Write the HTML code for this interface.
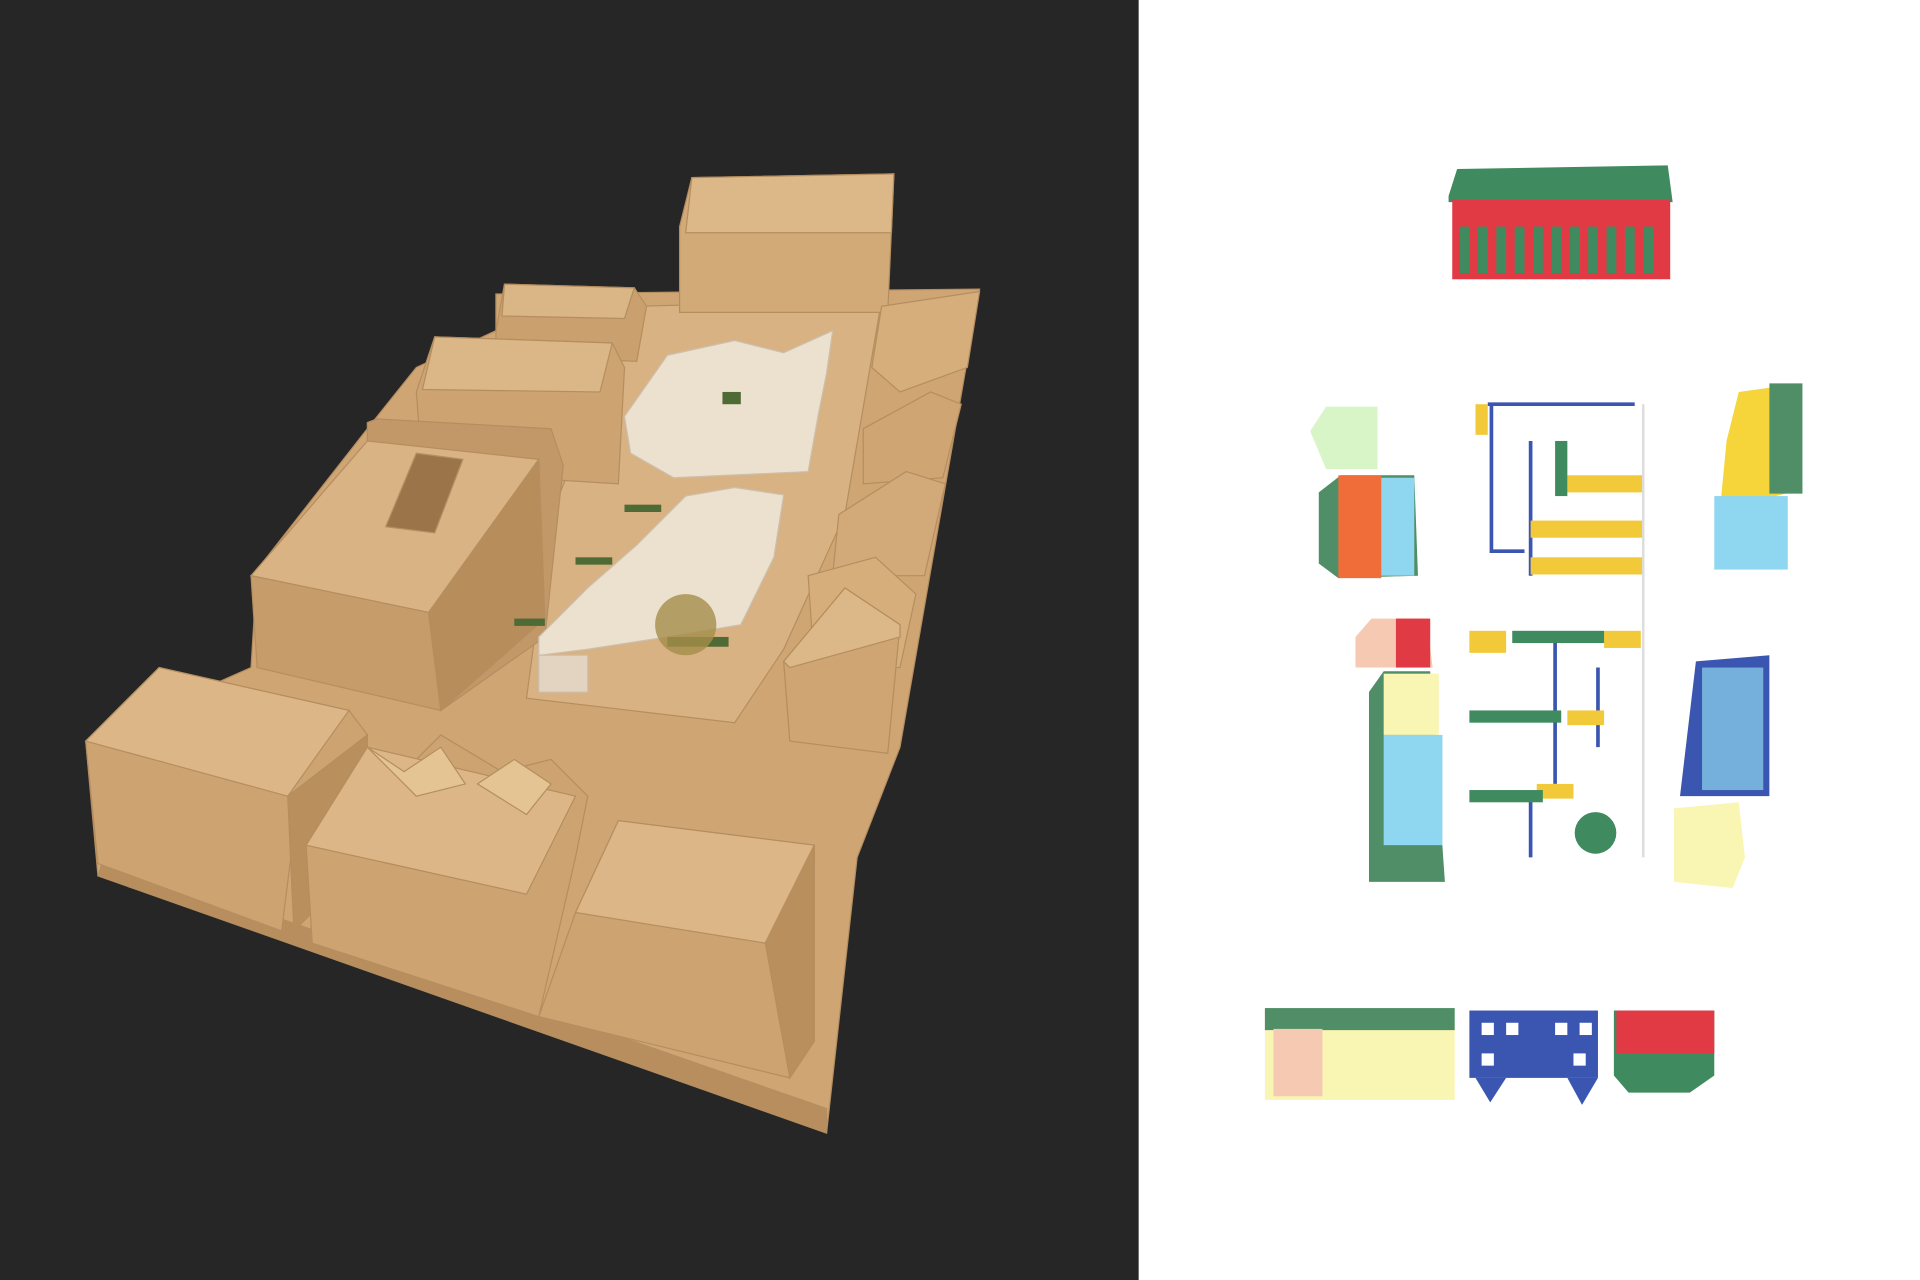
<!DOCTYPE html>
<html><head><meta charset="utf-8"><style>
html,body{margin:0;padding:0;width:1920px;height:1280px;overflow:hidden;background:#fff}
svg{display:block}
</style></head><body>
<svg width="1920" height="1280" viewBox="0 0 1568 1045" preserveAspectRatio="none" xmlns="http://www.w3.org/2000/svg">
<rect x="0" y="0" width="930" height="1045" fill="#262626"/>
<rect x="930" y="0" width="638" height="1045" fill="#ffffff"/>
<g stroke="#b58e60" stroke-width="1">
<polygon points="405,240 800,236 735,610 700,700 675,925 80,715 70,605 205,545 210,465 300,350 340,300 405,270" fill="#cfa574"/>
<polygon points="80,715 675,925 675,905 85,700" fill="#b88e5e"/>
<polygon points="520,250 720,245 690,420 640,530 600,590 430,570 450,420" fill="#d8b282"/>
<polygon points="555,185 565,145 730,142 725,255 555,255" fill="#d2aa78"/>
<polygon points="565,145 730,142 728,190 560,190" fill="#dcb787"/>
<polygon points="405,270 412,232 518,235 528,250 520,295 405,290" fill="#c9a06e"/>
<polygon points="412,232 518,235 510,260 410,258" fill="#dab586"/>
<polygon points="340,320 355,275 500,280 510,300 505,395 345,385" fill="#cda372"/>
<polygon points="355,275 500,280 490,320 345,318" fill="#dbb687"/>
<polygon points="300,345 308,342 450,350 460,380 445,520 360,580 300,560" fill="#c29868"/>
<polygon points="205,470 300,360 440,375 350,500" fill="#d9b383"/>
<polygon points="205,470 350,500 360,580 210,545" fill="#c69c6a"/>
<polygon points="350,500 440,375 445,505 360,580" fill="#b88d5c"/>
<polygon points="315,430 340,370 378,375 355,435" fill="#9c744a"/>
<polygon points="720,250 800,238 790,300 735,320 712,300" fill="#d6ae7c"/>
<polygon points="705,350 760,320 785,330 770,390 705,395" fill="#cfa574"/>
<polygon points="685,420 740,385 772,395 755,470 680,470" fill="#d2a978"/>
<polygon points="660,470 715,455 748,485 735,545 665,545" fill="#d6ae7c"/>
<polygon points="640,540 690,480 735,510 725,615 645,605" fill="#cea573"/>
<polygon points="640,540 690,480 735,510 735,520 645,545" fill="#dcb888"/>
<polygon points="70,605 130,545 285,580 300,600 240,680 230,760 80,705" fill="#cda372"/>
<polygon points="70,605 130,545 285,580 235,650" fill="#dcb686"/>
<polygon points="235,650 300,600 300,700 240,760" fill="#b98f5e"/>
<polygon points="250,690 300,610 330,630 360,600 410,630 450,620 480,650 470,700 440,830 255,770" fill="#cda372"/>
<polygon points="250,690 300,610 470,650 430,730" fill="#dcb686"/>
<polygon points="300,610 330,630 360,610 380,640 340,650" fill="#e5c494"/>
<polygon points="390,640 420,620 450,640 430,665" fill="#e5c494"/>
<polygon points="470,745 505,670 665,690 665,850 645,880 440,830" fill="#cda372"/>
<polygon points="470,745 505,670 665,690 625,770" fill="#dcb686"/>
<polygon points="625,770 665,690 665,850 645,880" fill="#b98f5e"/>
</g>
<g fill="#ece0cf" stroke="#cdbfae">
<polygon points="510,340 545,290 600,278 640,288 680,270 675,305 668,340 660,385 550,390 515,370"/>
<polygon points="440,520 480,480 520,445 560,405 600,398 640,404 632,455 605,510 545,520 480,530 440,535"/>
<polygon points="440,535 480,535 480,565 440,565" fill="#e2d4c0"/>
</g>
<g fill="#4f6b35"><rect x="590" y="320" width="15" height="10"/><rect x="510" y="412" width="30" height="6"/><rect x="470" y="455" width="30" height="6"/><rect x="420" y="505" width="25" height="6"/><rect x="545" y="520" width="50" height="8"/></g>
<circle cx="560" cy="510" r="25" fill="#a58d4a" opacity="0.8"/>

<polygon points="1183,160 1190,138 1362,135 1366,165 1183,165" fill="#3f8a5e"/>
<rect x="1186" y="163" width="178" height="65" fill="#e23a45"/>
<g fill="#3f8a5e"><rect x="1192" y="185" width="8" height="38"/><rect x="1207" y="185" width="8" height="38"/><rect x="1222" y="185" width="8" height="38"/><rect x="1237" y="185" width="8" height="38"/><rect x="1252" y="185" width="8" height="38"/><rect x="1267" y="185" width="8" height="38"/><rect x="1282" y="185" width="8" height="38"/><rect x="1297" y="185" width="8" height="38"/><rect x="1312" y="185" width="8" height="38"/><rect x="1327" y="185" width="8" height="38"/><rect x="1342" y="185" width="8" height="38"/></g>
<polygon points="1070,352 1083,332 1125,332 1125,383 1083,383" fill="#d8f5c8"/>
<polygon points="1077,402 1095,388 1155,388 1158,470 1093,472 1077,460" fill="#4f8e66"/>
<rect x="1093" y="388" width="35" height="84" fill="#f06d3a"/>
<rect x="1128" y="390" width="27" height="80" fill="#8fd6f0"/>
<polygon points="1107,520 1120,505 1165,505 1170,545 1107,545" fill="#f6c9b3"/>
<rect x="1140" y="505" width="28" height="40" fill="#e03b45"/>
<polygon points="1118,565 1130,548 1168,548 1180,720 1118,720" fill="#4f8e66"/>
<rect x="1130" y="550" width="45" height="50" fill="#f9f5b3"/>
<rect x="1130" y="600" width="48" height="90" fill="#8fd6f0"/>
<g fill="none" stroke="#3b56b0" stroke-width="3"><path d="M1215,330 H1335 M1218,330 V450 H1245 M1250,360 V470"/><path d="M1270,520 V640 M1305,545 V610 M1250,650 V700"/></g>
<g fill="#f2c938"><rect x="1205" y="330" width="10" height="25"/><rect x="1280" y="388" width="62" height="14"/><rect x="1250" y="425" width="92" height="14"/><rect x="1250" y="455" width="92" height="14"/><rect x="1200" y="515" width="30" height="18"/><rect x="1310" y="515" width="30" height="14"/><rect x="1280" y="580" width="30" height="12"/><rect x="1255" y="640" width="30" height="12"/></g>
<line x1="1342" y1="330" x2="1342" y2="700" stroke="#ddd" stroke-width="2"/>
<g fill="#3f8a5e"><rect x="1235" y="515" width="75" height="10"/><rect x="1200" y="580" width="75" height="10"/><rect x="1200" y="645" width="60" height="10"/><rect x="1270" y="360" width="10" height="45"/><circle cx="1303" cy="680" r="17"/></g>
<polygon points="1420,320 1470,313 1470,400 1450,405 1450,460 1400,465 1410,360" fill="#f5d53a"/>
<rect x="1445" y="313" width="27" height="90" fill="#4f8e66"/>
<rect x="1400" y="405" width="60" height="60" fill="#8fd6f0"/>
<polygon points="1385,540 1445,535 1445,650 1372,650" fill="#3b56b0"/>
<rect x="1390" y="545" width="50" height="100" fill="#8fd6f0" opacity="0.7"/>
<polygon points="1367,660 1420,655 1425,700 1415,725 1367,720" fill="#f9f5b3"/>
<rect x="1033" y="823" width="155" height="75" fill="#f9f5b3"/>
<rect x="1033" y="823" width="155" height="18" fill="#4f8e66"/>
<rect x="1040" y="840" width="40" height="55" fill="#f6c9b3"/>
<rect x="1200" y="825" width="105" height="55" fill="#3b56b0"/>
<polygon points="1205,880 1230,880 1217,900" fill="#3b56b0"/>
<polygon points="1280,880 1305,880 1292,902" fill="#3b56b0"/>
<g fill="#fff"><rect x="1210" y="835" width="10" height="10"/><rect x="1230" y="835" width="10" height="10"/><rect x="1270" y="835" width="10" height="10"/><rect x="1290" y="835" width="10" height="10"/><rect x="1210" y="860" width="10" height="10"/><rect x="1285" y="860" width="10" height="10"/></g>
<polygon points="1318,825 1400,825 1400,878 1380,892 1330,892 1318,878" fill="#3f8a5e"/>
<rect x="1320" y="825" width="80" height="35" fill="#e23a45"/>
</svg>
</body></html>
